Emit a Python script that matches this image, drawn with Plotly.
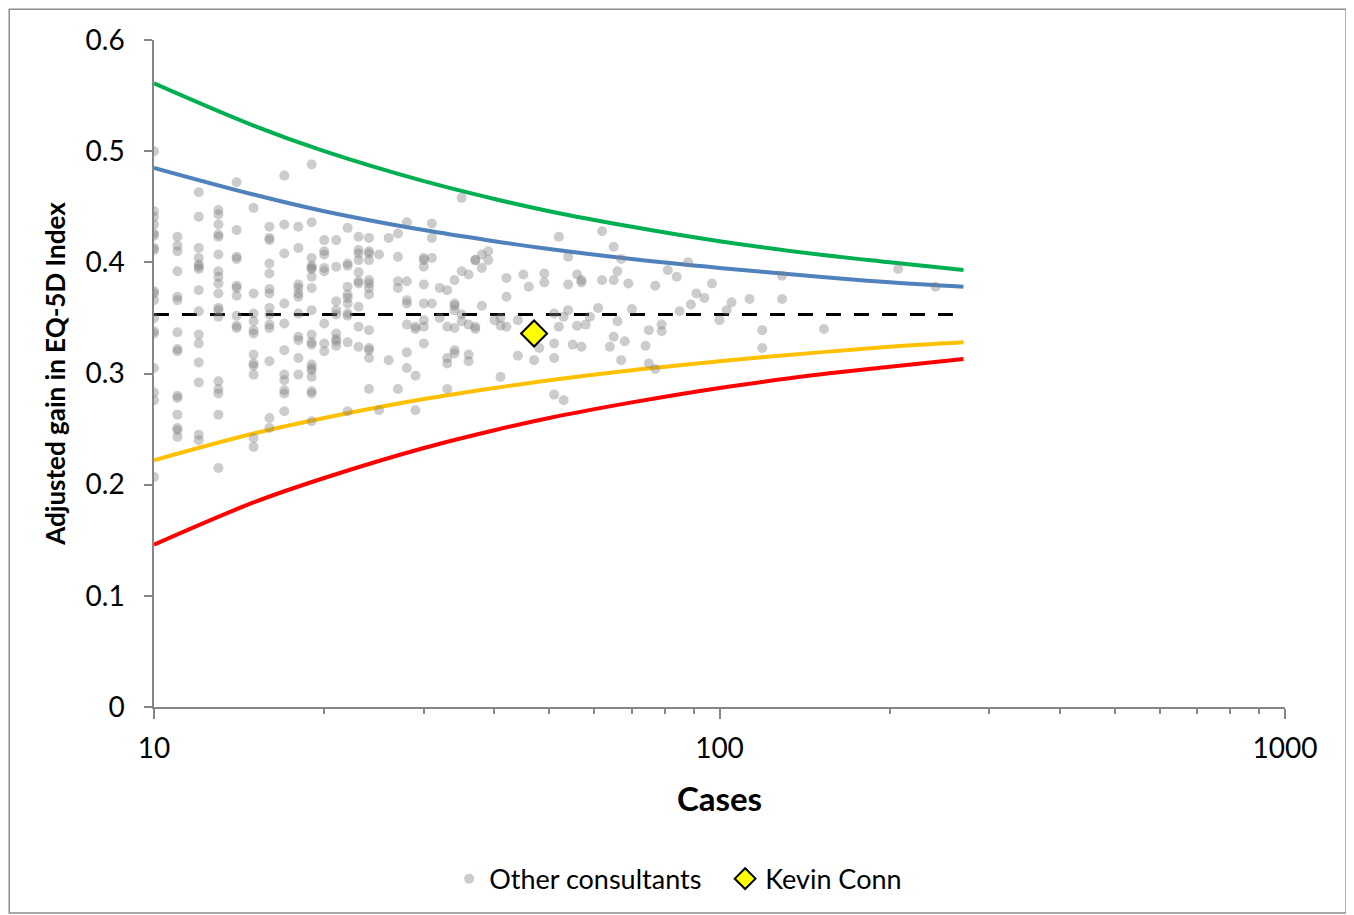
import plotly.graph_objects as go

# ---- Data ----
col_values = {
    10: [0.500, 0.446, 0.441, 0.434, 0.426, 0.424, 0.413, 0.411, 0.374, 0.372, 0.366, 0.350, 0.338, 0.336, 0.305, 0.283, 0.276, 0.207],
    11: [0.423, 0.415, 0.410, 0.392, 0.369, 0.366, 0.337, 0.322, 0.320, 0.280, 0.278, 0.263, 0.251, 0.249, 0.243],
    12: [0.463, 0.441, 0.413, 0.404, 0.398, 0.396, 0.394, 0.375, 0.356, 0.335, 0.327, 0.310, 0.292, 0.245, 0.240],
    13: [0.447, 0.443, 0.434, 0.425, 0.423, 0.407, 0.392, 0.387, 0.381, 0.372, 0.359, 0.357, 0.351, 0.293, 0.286, 0.282, 0.263, 0.215],
    14: [0.472, 0.429, 0.405, 0.403, 0.379, 0.377, 0.370, 0.352, 0.343, 0.341],
    15: [0.449, 0.372, 0.354, 0.347, 0.339, 0.336, 0.317, 0.309, 0.307, 0.299, 0.242, 0.234],
    16: [0.432, 0.422, 0.420, 0.399, 0.390, 0.376, 0.372, 0.359, 0.353, 0.344, 0.341, 0.311, 0.260, 0.251],
    17: [0.478, 0.434, 0.408, 0.363, 0.345, 0.321, 0.299, 0.294, 0.285, 0.282, 0.266],
    18: [0.432, 0.413, 0.380, 0.377, 0.372, 0.369, 0.354, 0.333, 0.330, 0.314, 0.299],
    19: [0.488, 0.436, 0.404, 0.397, 0.395, 0.394, 0.387, 0.377, 0.357, 0.335, 0.328, 0.326, 0.308, 0.305, 0.303, 0.297, 0.284, 0.282, 0.257],
    20: [0.420, 0.410, 0.407, 0.395, 0.392, 0.345, 0.327, 0.320],
    21: [0.420, 0.396, 0.365, 0.357, 0.353, 0.336, 0.331, 0.329, 0.325],
    22: [0.431, 0.399, 0.397, 0.378, 0.371, 0.368, 0.363, 0.354, 0.352, 0.328, 0.266],
    23: [0.423, 0.411, 0.408, 0.402, 0.391, 0.383, 0.381, 0.360, 0.342, 0.324],
    24: [0.422, 0.410, 0.408, 0.402, 0.384, 0.381, 0.377, 0.371, 0.339, 0.323, 0.321, 0.314, 0.286],
    25: [0.407, 0.267],
    26: [0.422, 0.312],
    27: [0.426, 0.405, 0.383, 0.377, 0.286],
    28: [0.436, 0.383, 0.366, 0.363, 0.344, 0.319, 0.305],
    29: [0.342, 0.340, 0.298, 0.267],
    30: [0.404, 0.402, 0.396, 0.380, 0.363, 0.348, 0.342, 0.327],
    31: [0.435, 0.422, 0.404, 0.363],
    32: [0.377, 0.350],
    33: [0.375, 0.342, 0.314, 0.309, 0.286],
    34: [0.384, 0.363, 0.361, 0.357, 0.341, 0.321, 0.318],
    35: [0.458, 0.392, 0.353, 0.347],
    36: [0.389, 0.344, 0.317, 0.311],
    37: [0.402, 0.342, 0.340, 0.402],
    38: [0.407, 0.395, 0.361],
    39: [0.410, 0.402],
    40: [0.348],
    41: [0.350, 0.343, 0.297],
    42: [0.386, 0.369, 0.342],
    44: [0.348, 0.316],
    45: [0.389],
    46: [0.378],
    47: [0.312],
    48: [0.323],
    49: [0.390, 0.382],
    51: [0.354, 0.327, 0.314, 0.281],
    52: [0.423, 0.342],
    53: [0.351, 0.276],
    54: [0.405, 0.380, 0.357],
    55: [0.326],
    56: [0.389, 0.343],
    57: [0.384, 0.382, 0.324],
    58: [0.344],
    59: [0.351],
    61: [0.359],
    62: [0.428, 0.384],
    64: [0.324],
    65: [0.414, 0.384, 0.333],
    66: [0.392, 0.347],
    67: [0.403, 0.312],
    68: [0.329],
    69: [0.381],
    70: [0.358],
    74: [0.325],
    75: [0.339, 0.309],
    77: [0.379, 0.304],
    79: [0.344, 0.338],
    81: [0.393],
    84: [0.387],
    85: [0.356],
    88: [0.400],
    89: [0.362],
    91: [0.372],
    94: [0.368],
    97: [0.381],
    100: [0.348],
    103: [0.357],
    105: [0.364],
    113: [0.367],
    119: [0.339, 0.323],
    129: [0.388, 0.367],
    153: [0.340],
    207: [0.394],
    241: [0.378],
}
other_cases = [c for c, vals in col_values.items() for _ in vals]
other_gain = [v for c, vals in col_values.items() for v in vals]

kevin_cases = [47]
kevin_gain = [0.336]

limit_cases = [10, 15, 20, 30, 40, 50, 70, 100, 150, 200, 270]
upper_998 = [0.561, 0.523, 0.500, 0.473, 0.457, 0.446, 0.432, 0.419, 0.407, 0.400, 0.393]
upper_95 = [0.485, 0.461, 0.446, 0.429, 0.419, 0.412, 0.403, 0.395, 0.387, 0.382, 0.378]
lower_95 = [0.222, 0.246, 0.260, 0.277, 0.287, 0.294, 0.303, 0.311, 0.319, 0.324, 0.328]
lower_998 = [0.146, 0.184, 0.206, 0.233, 0.249, 0.260, 0.274, 0.287, 0.299, 0.306, 0.313]
mean_cases = [10, 270]
mean_gain = [0.353, 0.353]

y_ticks = [0, 0.1, 0.2, 0.3, 0.4, 0.5, 0.6]
x_ticks = [10, 100, 1000]
x_minor = [20, 30, 40, 50, 60, 70, 80, 90, 200, 300, 400, 500, 600, 700, 800, 900]

FONT = "Lato"

fig = go.Figure()
for ys, col in [(upper_998, "#00B050"), (upper_95, "#4F81BD"), (lower_95, "#FFC000"), (lower_998, "#FF0000")]:
    fig.add_trace(go.Scatter(x=limit_cases, y=ys, mode="lines", line=dict(color=col, width=4, shape="spline"),
                             showlegend=False, hoverinfo="skip"))
fig.add_trace(go.Scatter(x=mean_cases, y=mean_gain, mode="lines",
                         line=dict(color="black", width=3, dash="15px,13px"), showlegend=False))
fig.add_trace(go.Scatter(x=other_cases, y=other_gain, mode="markers", name="Other consultants",
                         marker=dict(size=10, color="rgba(128,128,128,0.4)", line=dict(width=0))))
fig.add_trace(go.Scatter(x=kevin_cases, y=kevin_gain, mode="markers", name="Kevin Conn",
                         marker=dict(symbol="diamond", size=20, color="#FFFF00", line=dict(color="black", width=2))))

axis_col = "#868686"
fig.update_layout(
    width=1354, height=915,
    margin=dict(l=146, r=77, t=32, b=216),
    paper_bgcolor="white", plot_bgcolor="white",
    font=dict(family=FONT, color="black"),
    xaxis=dict(type="log", range=[1, 3], tickvals=x_ticks, ticktext=["10", "100", "1000"],
               showgrid=False, zeroline=False, showline=True, linecolor=axis_col, linewidth=1.5,
               ticks="outside", ticklen=10, tickcolor=axis_col, tickwidth=1.5,
               tickfont=dict(size=28), ticklabelstandoff=6,
               minor=dict(tickvals=x_minor, ticks="outside", ticklen=5, tickcolor=axis_col, tickwidth=1.5, showgrid=False),
               title=dict(text="<b>Cases</b>", font=dict(size=33), standoff=25)),
    yaxis=dict(range=[0, 0.6], tickvals=y_ticks, ticktext=[str(t) if t else "0" for t in y_ticks],
               showgrid=False, zeroline=False, showline=True, linecolor=axis_col, linewidth=1.5,
               ticks="outside", ticklen=8, tickcolor=axis_col, tickwidth=1.5,
               tickfont=dict(size=28), ticklabelstandoff=14,
               title=dict(text="<b>Adjusted gain in EQ-5D Index</b>", font=dict(size=26), standoff=12)),
    legend=dict(orientation="h", x=0.505, xanchor="center", y=-0.258, yanchor="middle",
                font=dict(size=27), bgcolor="rgba(0,0,0,0)", entrywidth=231, itemwidth=30),
    shapes=[dict(type="rect", xref="paper", yref="paper", x0=-0.128, x1=1.054, y0=-0.309, y1=1.046,
                 line=dict(color="#8C8C8C", width=1.5), fillcolor="rgba(0,0,0,0)", layer="below")],
)

fig.write_html("out.html")
